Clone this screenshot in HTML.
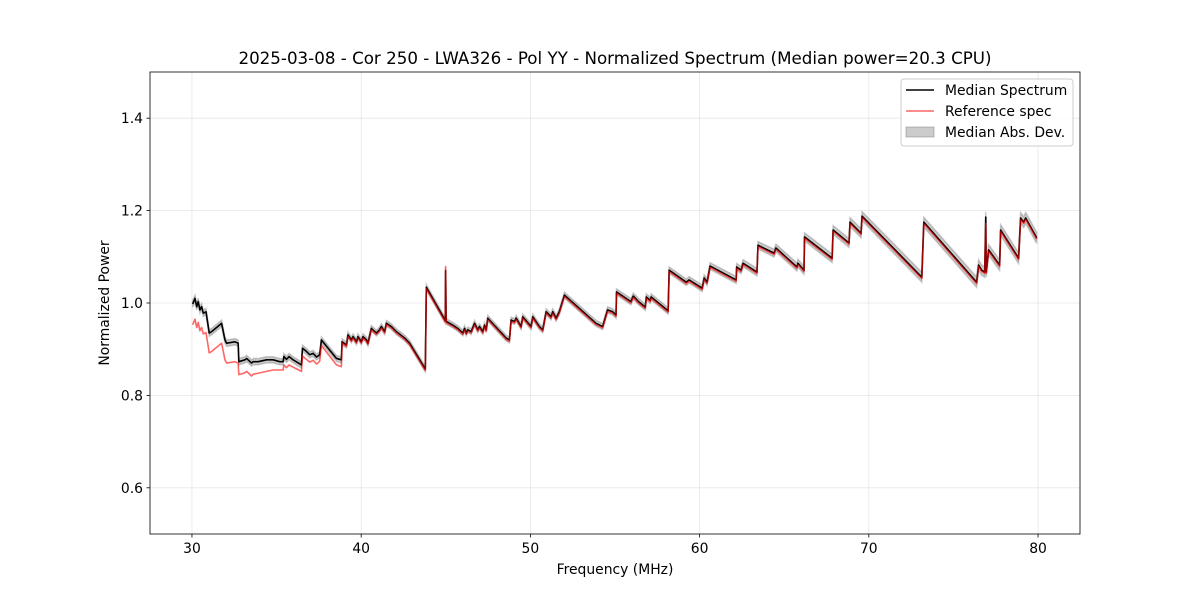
<!DOCTYPE html>
<html><head><meta charset="utf-8"><style>
body{margin:0;background:#fff;}
svg text{font-family:"DejaVu Sans","Liberation Sans",sans-serif;fill:#000;}
</style></head><body>
<svg id="chart" width="1200" height="600" xmlns="http://www.w3.org/2000/svg">
<rect width="1200" height="600" fill="#fff"/>
<text x="615" y="64" font-size="16.7" text-anchor="middle">2025-03-08 - Cor 250 - LWA326 - Pol YY - Normalized Spectrum (Median power=20.3 CPU)</text>
<g id="grid"></g><g id="band"></g><g id="lines"></g><g id="axes"></g>
<text x="615" y="574" font-size="13.9" text-anchor="middle">Frequency (MHz)</text>
<text transform="translate(109,303) rotate(-90)" font-size="13.9" text-anchor="middle">Normalized Power</text>
<g>
<rect x="901" y="79" width="172" height="67" rx="3" fill="#fff" fill-opacity="0.8" stroke="#ccc"/>
<line x1="906" y1="90" x2="934" y2="90" stroke="#000" stroke-width="1.5"/>
<text x="945" y="95" font-size="13.9">Median Spectrum</text>
<line x1="906" y1="111" x2="934" y2="111" stroke="#ff0000" stroke-opacity="0.6" stroke-width="1.5"/>
<text x="945" y="116" font-size="13.9">Reference spec</text>
<rect x="906" y="127" width="28" height="10" fill="#808080" fill-opacity="0.4" stroke="#808080" stroke-opacity="0.5"/>
<text x="945" y="137" font-size="13.9">Median Abs. Dev.</text>
</g>
</svg>
<script>
const medFreqs=[30.04,30.18,30.28,30.37,30.47,30.57,30.67,30.83,31.02,31.16,31.75,31.95,32.05,32.54,32.73,32.77,33.13,33.23,33.52,33.62,33.91,34.41,34.80,35.19,35.39,35.43,35.59,35.74,35.98,36.47,36.53,36.77,36.96,37.16,37.36,37.55,37.65,38.54,38.83,38.87,39.13,39.22,39.42,39.52,39.72,39.81,40.01,40.11,40.31,40.40,40.60,40.90,41.09,41.19,41.39,41.49,41.78,42.08,42.57,42.86,43.79,43.85,44.97,44.99,45.02,45.03,45.22,45.42,45.71,46.01,46.11,46.21,46.30,46.50,46.70,46.89,46.99,47.19,47.29,47.39,47.48,48.57,48.76,48.86,49.06,49.16,49.45,49.55,50.04,50.14,50.53,50.73,50.93,51.22,51.32,51.52,51.71,52.01,53.88,54.27,54.56,54.86,55.06,55.09,55.94,56.08,56.39,56.79,56.85,57.08,57.14,58.14,58.20,59.21,59.38,60.15,60.27,60.44,60.62,62.16,62.19,62.45,62.57,63.39,63.45,64.40,64.51,65.75,65.81,66.17,66.20,67.83,67.89,68.83,68.89,69.54,69.60,73.13,73.25,76.37,76.49,76.67,76.85,76.91,76.94,77.08,77.73,77.79,78.85,78.97,79.15,79.27,79.92];
const medValues=[0.998,1.010,0.992,1.003,0.985,0.992,0.978,0.981,0.935,0.938,0.956,0.920,0.913,0.916,0.913,0.873,0.877,0.880,0.870,0.873,0.873,0.877,0.877,0.873,0.873,0.884,0.878,0.884,0.877,0.866,0.902,0.895,0.888,0.891,0.883,0.888,0.920,0.880,0.877,0.916,0.909,0.931,0.920,0.927,0.916,0.927,0.916,0.927,0.920,0.913,0.945,0.935,0.942,0.949,0.938,0.956,0.949,0.938,0.924,0.913,0.857,1.034,0.962,1.070,0.963,0.960,0.956,0.952,0.945,0.935,0.945,0.935,0.942,0.938,0.956,0.942,0.949,0.938,0.952,0.942,0.967,0.924,0.920,0.963,0.960,0.967,0.949,0.970,0.949,0.970,0.949,0.942,0.981,0.970,0.981,0.967,0.981,1.017,0.956,0.949,0.985,0.981,0.974,1.024,1.003,1.015,1.003,0.991,1.013,1.006,1.013,0.983,1.071,1.045,1.050,1.032,1.054,1.045,1.080,1.050,1.078,1.071,1.086,1.067,1.125,1.108,1.119,1.078,1.086,1.071,1.143,1.097,1.158,1.130,1.175,1.151,1.188,1.056,1.175,1.045,1.082,1.071,1.067,1.186,1.067,1.115,1.082,1.158,1.097,1.184,1.175,1.184,1.141];
const refLowFreqs=[30.04,30.18,30.28,30.37,30.47,30.57,30.67,30.83,31.02,31.16,31.75,31.95,32.05,32.54,32.73,32.77,33.13,33.23,33.52,33.62,33.91,34.41,34.80,35.19,35.39,35.43,35.59,35.74,35.98,36.47,36.53,36.77,36.96,37.16,37.36,37.55,37.65,38.54,38.83];
const refLowValues=[0.953,0.965,0.947,0.958,0.940,0.947,0.933,0.936,0.892,0.895,0.913,0.877,0.870,0.873,0.870,0.845,0.849,0.852,0.842,0.846,0.848,0.852,0.855,0.855,0.855,0.866,0.860,0.866,0.861,0.852,0.885,0.878,0.872,0.876,0.868,0.874,0.908,0.866,0.862];
const refSpikeFreq=[44.99,76.91];
const refSpikeValues=[1.082,1.175];
const madFreqs=[30,45,60,70,80];
const madValues=[0.007,0.006,0.007,0.010,0.012];
const xTicks=[30,40,50,60,70,80];
const yTicks=[0.6,0.8,1.0,1.2,1.4];

const X0=150,X1=1080,Y0=72,Y1=534,XMIN=27.52,XMAX=82.48,YMIN=0.5,YMAX=1.5;
const xs=f=>X0+(f-XMIN)/(XMAX-XMIN)*(X1-X0);
const ys=v=>Y1-(v-YMIN)/(YMAX-YMIN)*(Y1-Y0);
const NS="http://www.w3.org/2000/svg";
function mk(t,p,a){const e=document.createElementNS(NS,t);for(const k in a)e.setAttribute(k,a[k]);p.appendChild(e);return e;}
const grid=document.getElementById('grid'),axes=document.getElementById('axes'),band=document.getElementById('band'),lines=document.getElementById('lines');
xTicks.forEach(t=>{const x=xs(t);
 const g=mk('line',grid,{x1:x,x2:x,y1:Y0,y2:Y1,stroke:'#b0b0b0','stroke-opacity':0.3,'stroke-width':0.8});
 
 
 mk('line',axes,{x1:x,x2:x,y1:Y1,y2:Y1+3.5,stroke:'#000','stroke-width':0.8});
 const tx=mk('text',axes,{x:x,y:Y1+19,'font-size':13.9,'text-anchor':'middle'});tx.textContent=t;
 
 });
yTicks.forEach(t=>{const y=ys(t);
 const g=mk('line',grid,{x1:X0,x2:X1,y1:y,y2:y,stroke:'#b0b0b0','stroke-opacity':0.3,'stroke-width':0.8});
 
 
 mk('line',axes,{x1:X0-3.5,x2:X0,y1:y,y2:y,stroke:'#000','stroke-width':0.8});
 const tx=mk('text',axes,{x:X0-7,y:y+5,'font-size':13.9,'text-anchor':'end'});tx.textContent=t.toFixed(1);
 
 });
const fr=mk('rect',axes,{x:X0,y:Y0,width:X1-X0,height:Y1-Y0,fill:'none',stroke:'#000','stroke-width':0.8});


function mad(f){for(let i=0;i<madFreqs.length-1;i++){if(f<=madFreqs[i+1]){const r=(f-madFreqs[i])/(madFreqs[i+1]-madFreqs[i]);return madValues[i]+r*(madValues[i+1]-madValues[i]);}}return madValues[madValues.length-1];}
let up=[],dn=[];
medFreqs.forEach((f,i)=>{up.push(xs(f)+','+ys(medValues[i]+mad(f)));dn.push(xs(f)+','+ys(medValues[i]-mad(f)));});
const bp=mk('polygon',band,{points:up.concat(dn.reverse()).join(' '),fill:'#808080','fill-opacity':0.4,stroke:'#808080','stroke-opacity':0.4,'stroke-width':1.5});


const ml=mk('polyline',lines,{points:medFreqs.map((f,i)=>xs(f)+','+ys(medValues[i])).join(' '),fill:'none',stroke:'#000','stroke-width':1.6,'stroke-linejoin':'round'});


// reference: low-band values, then median shape elsewhere with spike overrides
const last=refLowFreqs[refLowFreqs.length-1];
let rf=refLowFreqs.slice(),rv=refLowValues.slice();
medFreqs.forEach((f,i)=>{if(f>last){let v=medValues[i];const k=refSpikeFreq.indexOf(f);if(k>=0)v=refSpikeValues[k];rf.push(f);rv.push(v-0.003);}});
const rl=mk('polyline',lines,{points:rf.map((f,i)=>xs(f)+','+ys(rv[i])).join(' '),fill:'none',stroke:'#ff0000','stroke-opacity':0.6,'stroke-width':1.6,'stroke-linejoin':'round'});


</script>
</body></html>
